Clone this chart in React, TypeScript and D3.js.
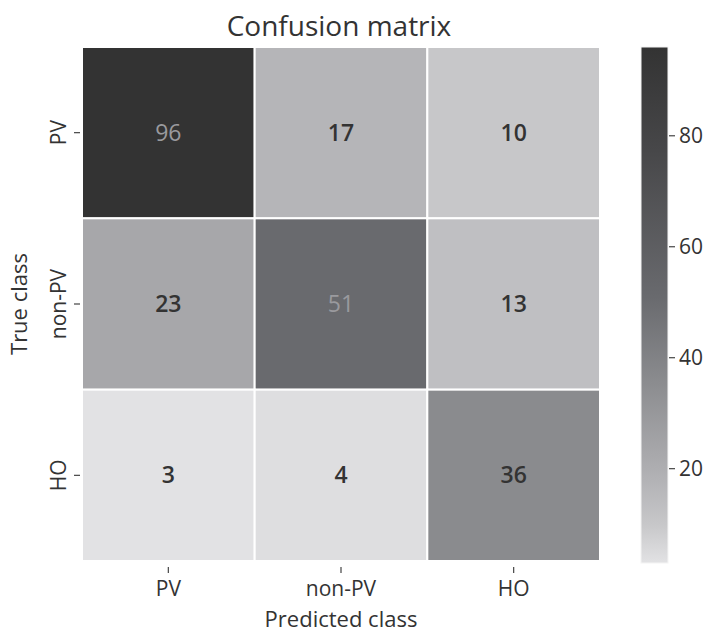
import React from "react";
import * as d3 from "d3";

// confusion matrix values (rows = true class, cols = predicted class)
const classes = ["PV", "non-PV", "HO"];
const rowPV = [96, 17, 10];
const rowNonPV = [23, 51, 13];
const rowHO = [3, 4, 36];
const colorbarTicks = [20, 40, 60, 80];

const matrix = [rowPV, rowNonPV, rowHO];

// grey colormap (normalised position -> colour)
const cmapStops: [number, string][] = [
  [0, "#e2e2e4"],
  [0.075, "#c7c7c9"],
  [0.15, "#b5b5b8"],
  [0.215, "#a7a7aa"],
  [0.355, "#8a8b8e"],
  [0.516, "#696a6e"],
  [0.8, "#474749"],
  [1, "#333333"],
];

const W = 714;
const H = 632;
const font = "'Open Sans', 'DejaVu Sans', sans-serif";

export default function App() {
  const left = 82,
    right = 600,
    top = 47,
    bottom = 561;

  const flat = matrix.flat();
  const vmin = d3.min(flat) as number;
  const vmax = d3.max(flat) as number;

  const norm = d3.scaleLinear().domain([vmin, vmax]).range([0, 1]);
  const cmap = d3
    .scaleLinear<string>()
    .domain(cmapStops.map((d) => d[0]))
    .range(cmapStops.map((d) => d[1]))
    .interpolate(d3.interpolateRgb);
  const color = (v: number) => cmap(norm(v));

  const x = d3.scaleBand().domain(classes).range([left, right]);
  const y = d3.scaleBand().domain(classes).range([top, bottom]);

  const cbX = 641,
    cbW = 27;
  const cbY = d3.scaleLinear().domain([vmin, vmax]).range([bottom + 2, top]);

  return (
    <svg width={W} height={H} style={{ position: "absolute", left: 0, top: 0 }}>
      <defs>
        <linearGradient id="cbar" x1="0" y1="1" x2="0" y2="0">
          {cmapStops.map(([t, c]) => (
            <stop key={t} offset={t} stopColor={c} />
          ))}
        </linearGradient>
      </defs>
      <rect width={W} height={H} fill="#fff" />

      <text x={(left + right) / 2 - 2} y={36} textAnchor="middle" fontFamily={font} fontSize={28} fill="#333">
        Confusion matrix
      </text>

      {/* cells */}
      {matrix.map((row, i) =>
        row.map((v, j) => {
          const cx = x(classes[j])!;
          const cy = y(classes[i])!;
          const light = norm(v) > 0.45;
          return (
            <g key={`${i}-${j}`}>
              <rect
                x={cx}
                y={cy}
                width={x.bandwidth()}
                height={y.bandwidth()}
                fill={color(v)}
                stroke="#fff"
                strokeWidth={2}
              />
              <text
                x={cx + x.bandwidth() / 2}
                y={cy + y.bandwidth() / 2}
                dy="0.35em"
                textAnchor="middle"
                fontFamily={font}
                fontSize={23}
                fontWeight={light ? 400 : 600}
                fill={light ? "#9a9a9e" : "#333"}
              >
                {v}
              </text>
            </g>
          );
        })
      )}

      {/* x axis */}
      {classes.map((c) => {
        const cx = x(c)! + x.bandwidth() / 2;
        return (
          <g key={"x" + c}>
            <line x1={cx} x2={cx} y1={bottom + 6} y2={bottom + 12} stroke="#444" strokeWidth={1.2} />
            <text x={cx} y={bottom + 35} textAnchor="middle" fontFamily={font} fontSize={21} fill="#333">
              {c}
            </text>
          </g>
        );
      })}
      <text x={(left + right) / 2} y={627} textAnchor="middle" fontFamily={font} fontSize={22} fill="#333">
        Predicted class
      </text>

      {/* y axis */}
      {classes.map((c) => {
        const cy = y(c)! + y.bandwidth() / 2;
        return (
          <g key={"y" + c}>
            <line x1={left - 8} x2={left - 2} y1={cy} y2={cy} stroke="#444" strokeWidth={1.2} />
            <text
              transform={`translate(${left - 16},${cy}) rotate(-90)`}
              textAnchor="middle"
              fontFamily={font}
              fontSize={21}
              fill="#333"
            >
              {c}
            </text>
          </g>
        );
      })}
      <text
        transform={`translate(27,${(top + bottom) / 2}) rotate(-90)`}
        textAnchor="middle"
        fontFamily={font}
        fontSize={22}
        fill="#333"
      >
        True class
      </text>

      {/* colorbar */}
      <rect x={cbX} y={top} width={cbW} height={bottom + 2 - top} fill="url(#cbar)" stroke="#f4f4f4" strokeWidth={1} />
      {colorbarTicks.map((t) => (
        <g key={"cb" + t}>
          <line x1={cbX + cbW + 1} x2={cbX + cbW + 7} y1={cbY(t)} y2={cbY(t)} stroke="#444" strokeWidth={1.2} />
          <text x={cbX + cbW + 11} y={cbY(t)} dy="0.35em" fontFamily={font} fontSize={21} fill="#333">
            {t}
          </text>
        </g>
      ))}
    </svg>
  );
}
